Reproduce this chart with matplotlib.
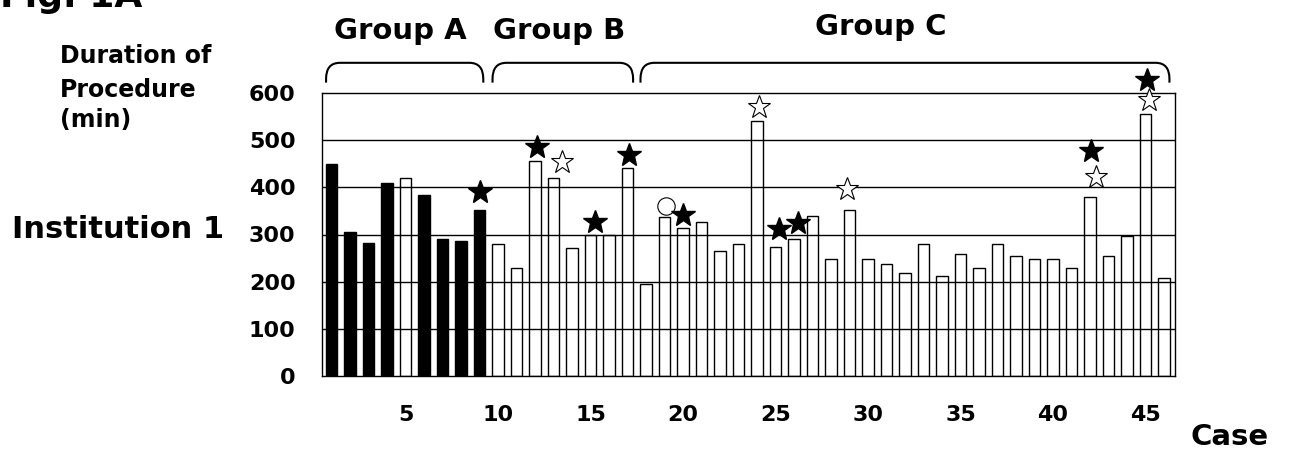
import matplotlib
matplotlib.use('Agg')
import matplotlib.pyplot as plt
from matplotlib.path import Path
import matplotlib.patches as mpatches
import numpy as np

# Duration of procedure (min) per case, Institution 1
cases = np.arange(1, 47)
durations = [450, 305, 281, 409, 420, 384, 290, 286, 351, 280,
             230, 455, 420, 271, 300, 300, 442, 195, 337, 314,
             326, 266, 280, 540, 274, 290, 340, 247, 353, 247,
             238, 219, 280, 211, 258, 230, 280, 255, 247, 247,
             228, 379, 255, 297, 556, 208]
black_cases = [1, 2, 3, 4, 6, 7, 8, 9]

# markers above bars (x in case units, y in minutes)
filled_star_x = [9.0, 12.1, 15.25, 17.1, 20.0, 25.2, 26.2, 42.05, 45.1]
filled_star_y = [391, 485, 327, 468, 341, 312, 324, 476, 627]
open_star_x = [13.47, 24.1, 28.85, 42.35, 45.2]
open_star_y = [454, 571, 396, 422, 585]
circle_x = [19.1]
circle_y = [360]

groups = ['Group A', 'Group B', 'Group C']
group_spans = [(0.7, 9.2), (9.7, 17.3), (17.7, 46.3)]
group_label_x = [4.7, 13.3, 30.7]
group_label_y = [714, 714, 723]

yticks = [0, 100, 200, 300, 400, 500, 600]
xticks = [5, 10, 15, 20, 25, 30, 35, 40, 45]

W, H = 1292, 459
fig = plt.figure(figsize=(W / 100, H / 100), dpi=100)
ax = fig.add_axes([322 / W, 1 - 376 / H, (1175 - 322) / W, (376 - 93) / H])

for c, d in zip(cases, durations):
    face = 'black' if c in black_cases else 'none'
    ax.bar(c, d, width=0.62, facecolor=face, edgecolor='black', linewidth=1.0, zorder=3)

for yv in yticks[1:-1]:
    ax.axhline(yv, color='black', linewidth=1.0, zorder=1)

ax.plot(filled_star_x, filled_star_y, linestyle='none', marker='*', ms=18,
        mfc='black', mec='black', zorder=5, clip_on=False)
ax.plot(open_star_x, open_star_y, linestyle='none', marker='*', ms=17,
        mfc='white', mec='black', mew=0.8, zorder=5, clip_on=False)
ax.plot(circle_x, circle_y, linestyle='none', marker='o', ms=12.5,
        mfc='white', mec='black', mew=0.8, zorder=4, clip_on=False)

ax.set_xlim(0.48, 46.6)
ax.set_ylim(0, 600)
ax.set_yticks(yticks)
ax.set_xticks(xticks)
ax.tick_params(axis='y', length=0, pad=19, labelsize=16)
ax.tick_params(axis='x', length=0, pad=21, labelsize=16)
for lab in ax.get_xticklabels() + ax.get_yticklabels():
    lab.set_fontweight('bold')
for sp in ax.spines.values():
    sp.set_linewidth(1.0)


# brackets over the groups
def bracket(x0, x1, y_end=622, y_top=664, rx=0.75, ry=34):
    verts = [(x0, y_end), (x0, y_top - ry), (x0, y_top), (x0 + rx, y_top),
             (x1 - rx, y_top), (x1, y_top), (x1, y_top - ry), (x1, y_end)]
    codes = [Path.MOVETO, Path.LINETO, Path.CURVE3, Path.CURVE3,
             Path.LINETO, Path.CURVE3, Path.CURVE3, Path.LINETO]
    return mpatches.PathPatch(Path(verts, codes), facecolor='none',
                              edgecolor='black', linewidth=1.5, clip_on=False)


for (x0, x1), name, lx, ly in zip(group_spans, groups, group_label_x, group_label_y):
    ax.add_patch(bracket(x0, x1))
    ax.text(lx, ly, name, ha='center', va='baseline', fontsize=21,
            fontweight='bold', clip_on=False)

fig.text(0.0, 1 - 7 / H, 'Fig. 1A', fontsize=26, fontweight='bold', va='baseline')
fig.text(60 / W, 1 - 63 / H, 'Duration of', fontsize=17, fontweight='bold', va='baseline')
fig.text(60 / W, 1 - 97 / H, 'Procedure', fontsize=17, fontweight='bold', va='baseline')
fig.text(60 / W, 1 - 127 / H, '(min)', fontsize=17, fontweight='bold', va='baseline')
fig.text(12 / W, 1 - 238 / H, 'Institution 1', fontsize=22, fontweight='bold', va='baseline')
fig.text(1190 / W, 1 - 445 / H, 'Case', fontsize=21, fontweight='bold', va='baseline')

fig.savefig('out.png', dpi=100)
